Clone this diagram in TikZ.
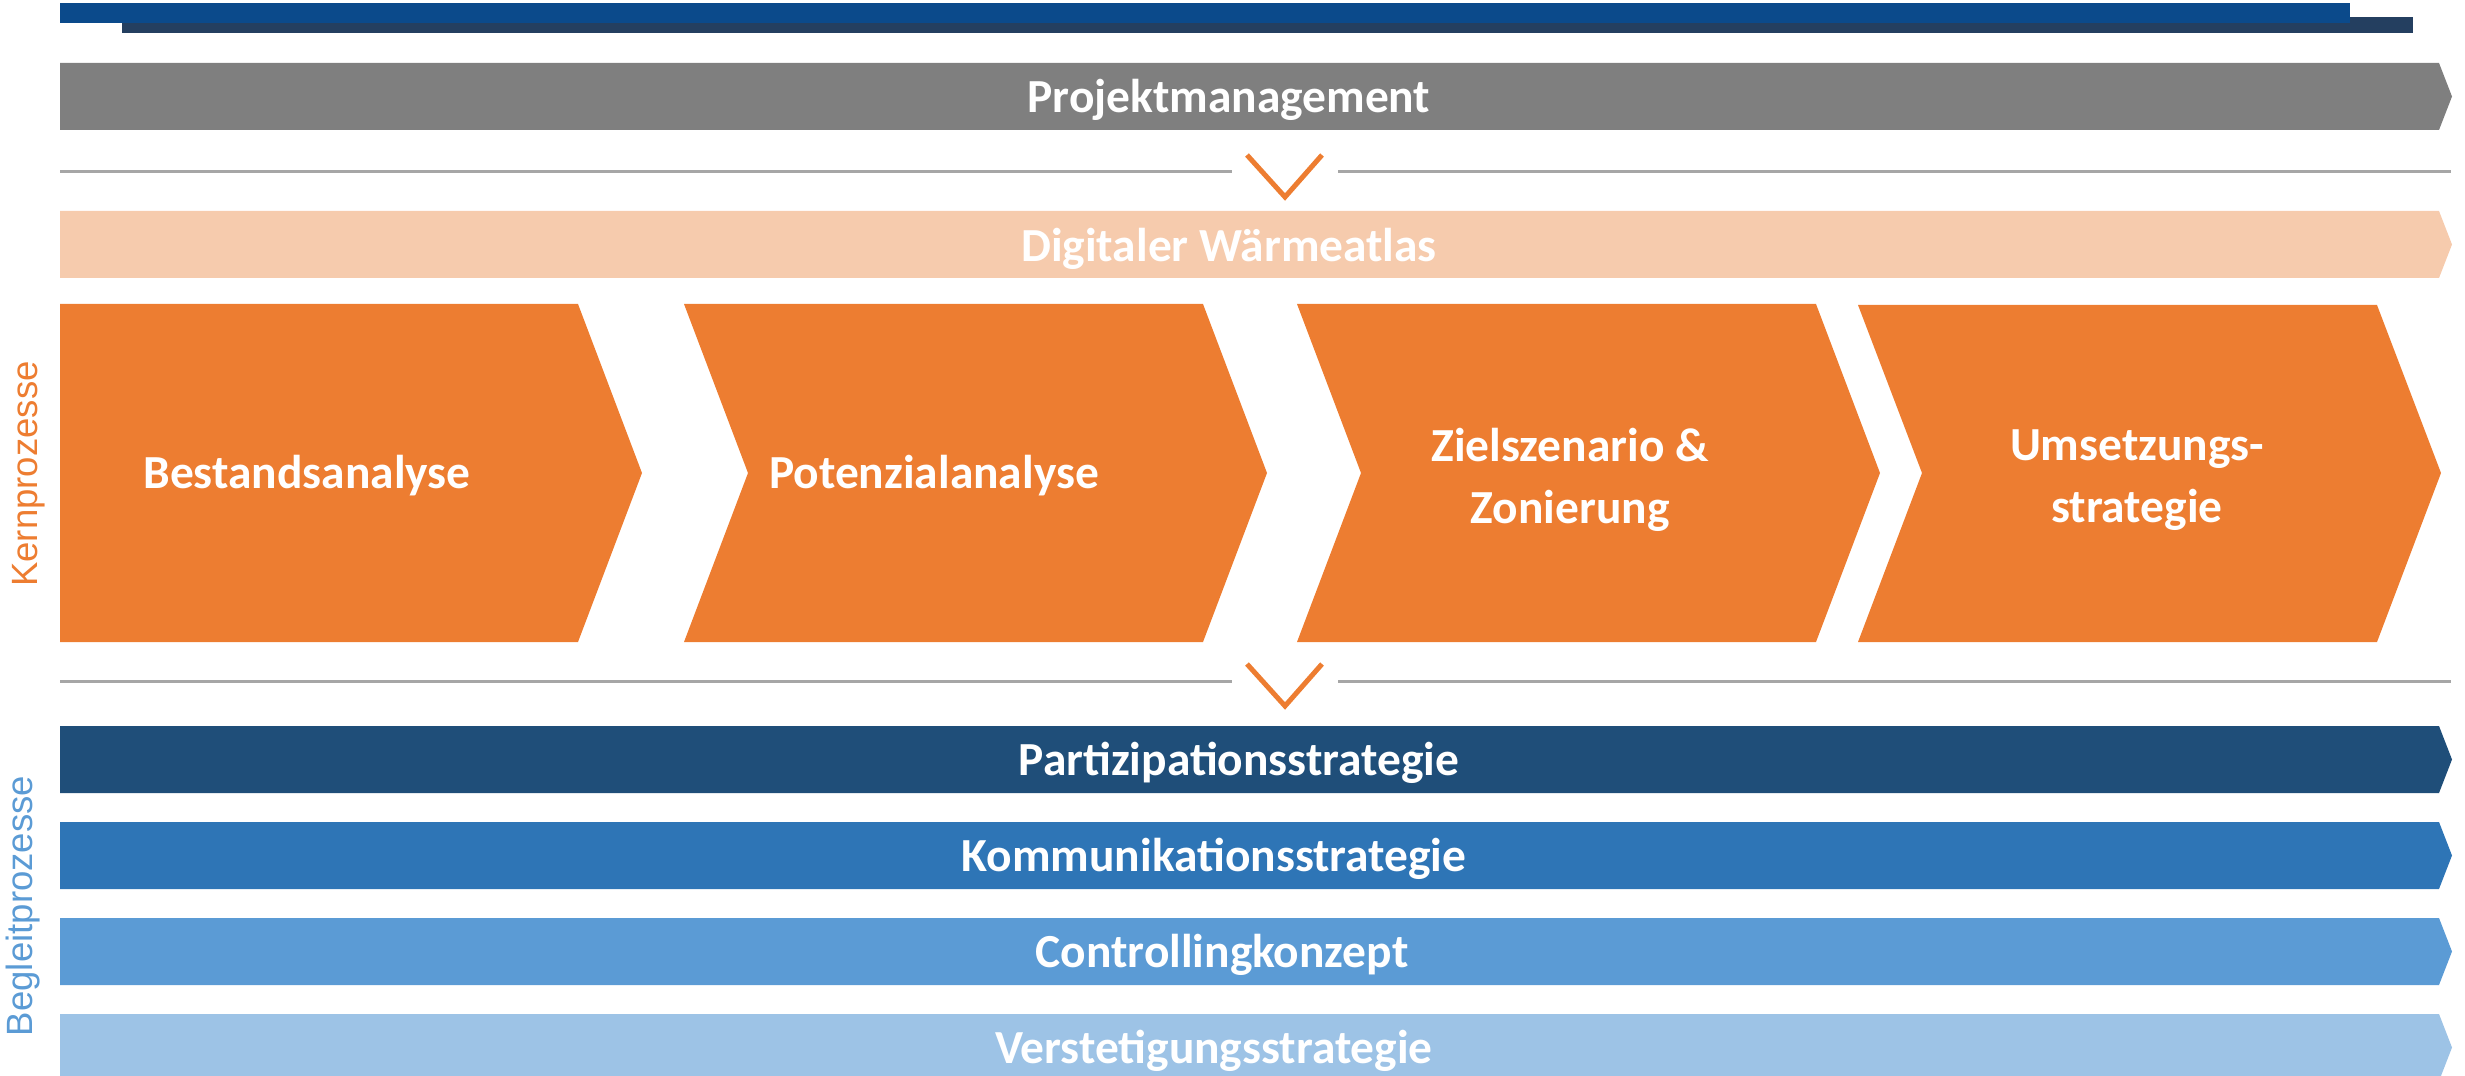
\documentclass[tikz,border=0pt]{standalone}
\usepackage{fontspec}
\setmainfont{Carlito}
\newfontfamily\labelfont{Liberation Sans}
\usetikzlibrary{positioning}

\definecolor{topblue}{HTML}{0B4A8B}
\definecolor{topnavy}{HTML}{243F60}
\definecolor{pmgrey}{HTML}{7F7F7F}
\definecolor{atlaspeach}{HTML}{F6CBAD}
\definecolor{kernorange}{HTML}{ED7D31}
\definecolor{blueA}{HTML}{1F4E79}
\definecolor{blueB}{HTML}{2E75B6}
\definecolor{blueC}{HTML}{5B9BD5}
\definecolor{blueD}{HTML}{9DC3E6}
\definecolor{linegrey}{HTML}{A6A6A6}

\begin{document}
\begin{tikzpicture}[x=0.1mm,y=-0.1mm,
	bartext/.style={text=white,font=\fontsize{13.5}{17.8}\selectfont\bfseries,align=center},
	sidelabel/.style={rotate=90,font=\labelfont\fontsize{10.4}{12}\selectfont},
	sepline/.style={draw=linegrey,line width=0.3mm},
	vmark/.style={draw=kernorange,line width=0.5mm}]
	\useasboundingbox (0,0) rectangle (2465,1076);

	% kopfbalken
	\fill[topnavy] (122,17) rectangle (2413,33);
	\fill[topblue] (60,3) rectangle (2350,23);

	% projektmanagement
	\fill[pmgrey] (60,63) -- (2439,63) -- (2452,96.5) -- (2439,130) -- (60,130) -- cycle;
	\node[bartext] (pm) at (1229,100) {Projektmanagement};

	\draw[sepline] (60,172) -- (1232,172) (1338,172) -- (2451,172);
	\draw[vmark] (1247,155) -- (1285,197) -- (1322,155);

	% waermeatlas
	\fill[atlaspeach] (60,211) -- (2439,211) -- (2452,244.5) -- (2439,278) -- (60,278) -- cycle;
	\node[bartext] (atlas) at (1229,249) {Digitaler Wärmeatlas};

	% kernprozesse
	\fill[kernorange] (60,304) -- (578,304) -- (642,473) -- (578,642) -- (60,642) -- cycle;
	\fill[kernorange] (684,304) -- (1203,304) -- (1267,473) -- (1203,642) -- (684,642) -- (748,473) -- cycle;
	\fill[kernorange] (1297,304) -- (1816,304) -- (1880,473) -- (1816,642) -- (1297,642) -- (1361,473) -- cycle;
	\fill[kernorange] (1858,305) -- (2377,305) -- (2441,473) -- (2377,642) -- (1858,642) -- (1922,473) -- cycle;
	\node[bartext] (bestand)   at (307,476)  {Bestandsanalyse};
	\node[bartext] (potenzial) at (934,476)  {Potenzialanalyse};
	\node[bartext] (ziel)      at (1570,480) {Zielszenario \&\\Zonierung};
	\node[bartext] (umsetzung) at (2137,480) {Umsetzungs-\\strategie};
	\node[sidelabel,text=kernorange] (kern) at (29,474) {Kernprozesse};

	\draw[sepline] (60,681) -- (1232,681) (1338,681) -- (2451,681);
	\draw[vmark] (1247,664) -- (1285,706) -- (1322,664);

	% begleitprozesse
	\fill[blueA] (60,726) -- (2439,726) -- (2452,759.5) -- (2439,793) -- (60,793) -- cycle;
	\fill[blueB] (60,822) -- (2439,822) -- (2452,855.5) -- (2439,889) -- (60,889) -- cycle;
	\fill[blueC] (60,918) -- (2439,918) -- (2452,951.5) -- (2439,985) -- (60,985) -- cycle;
	\fill[blueD] (60,1014) -- (2439,1014) -- (2452,1047.5) -- (2439,1081) -- (60,1081) -- cycle;
	\node[bartext] (partizipation) at (1239,763)  {Partizipationsstrategie};
	\node[bartext] (kommunikation) at (1214,859)  {Kommunikationsstrategie};
	\node[bartext] (controlling)   at (1222,955)  {Controllingkonzept};
	\node[bartext] (verstetigung)  at (1214,1051) {Verstetigungsstrategie};
	\node[sidelabel,text=blueC] (begleit) at (23,906) {Begleitprozesse};
\end{tikzpicture}
\end{document}
